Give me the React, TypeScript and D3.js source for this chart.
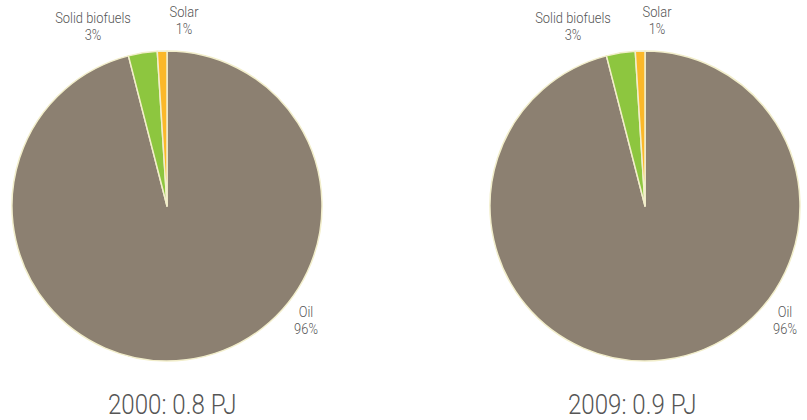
import React from "react";
import * as d3 from "d3";

const categories = ["Oil", "Solid biofuels", "Solar"];
const years = ["2000", "2009"];
const totals = ["0.8 PJ", "0.9 PJ"];
const values2000 = [96, 3, 1];
const values2009 = [96, 3, 1];
const colors = ["#8c8071", "#8dc63f", "#fbb829"];

const W = 807;
const H = 420;
const R = 155;
const centers = [
  { x: 167, y: 206 },
  { x: 645, y: 206 },
];
const titleX = [108, 568];
// label anchor positions (name line) per pie per category
const labelPos = [
  [
    { x: 306, y: 317 },
    { x: 93, y: 23 },
    { x: 184, y: 17 },
  ],
  [
    { x: 785, y: 317 },
    { x: 573, y: 23 },
    { x: 657, y: 17 },
  ],
];

const font = "Roboto, 'Noto Sans', sans-serif";
const SX = 0.86;

function Pie({ values, idx }: { values: number[]; idx: number }) {
  const c = centers[idx];
  const pie = d3
    .pie<number>()
    .sort(null)
    .startAngle(0)
    .endAngle(2 * Math.PI);
  const arcs = pie(values);
  const arc = d3.arc<d3.PieArcDatum<number>>().innerRadius(0).outerRadius(R);
  const total = d3.sum(values);
  return (
    <g>
      <g transform={`translate(${c.x},${c.y})`}>
        {arcs.map((a, i) => (
          <path
            key={i}
            d={arc(a) || ""}
            fill={colors[i]}
            stroke="#f2eecb"
            strokeWidth={1.5}
            strokeLinejoin="round"
          />
        ))}
      </g>
      {categories.map((cat, i) => {
        const p = labelPos[idx][i];
        return (
          <g
            key={cat}
            fontFamily={font}
            fontSize={15}
            fontWeight={300}
            fill="#555"
            textAnchor="middle"
          >
            <text transform={`translate(${p.x},${p.y}) scale(${SX},1)`}>{cat}</text>
            <text transform={`translate(${p.x},${p.y + 17}) scale(${SX},1)`}>
              {Math.round((values[i] / total) * 100)}%
            </text>
          </g>
        );
      })}
      <text
        transform={`translate(${titleX[idx]},414) scale(${SX},1)`}
        fontFamily={font}
        fontSize={28}
        fontWeight={300}
        fill="#555"
      >
        {`${years[idx]}: ${totals[idx]}`}
      </text>
    </g>
  );
}

export default function App() {
  return (
    <svg
      width={W}
      height={H}
      style={{ position: "absolute", left: 0, top: 0, background: "#fff" }}
    >
      <Pie values={values2000} idx={0} />
      <Pie values={values2009} idx={1} />
    </svg>
  );
}
